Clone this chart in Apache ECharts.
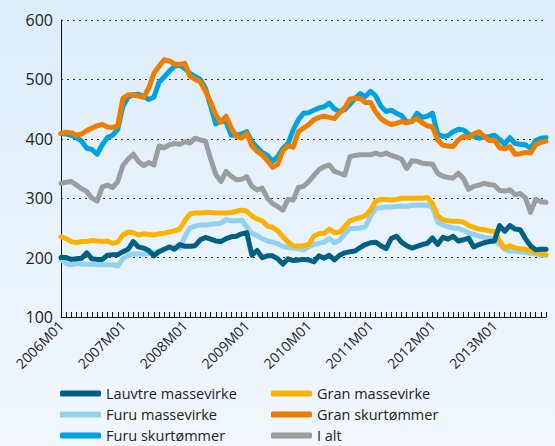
<!DOCTYPE html>
<html>
<head>
<meta charset="utf-8">
<script src="https://cdn.jsdelivr.net/npm/echarts@6/dist/echarts.min.js"></script>
<style>
html,body{margin:0;padding:0;}
body{background:linear-gradient(to bottom,#ddedf9 0%,#f1f7fd 100%);}
#c{width:555px;height:446px;}
</style>
</head>
<body>
<div id="c"></div>
<script>
// Monthly categories 2006M01 .. 2013M11
const months = [];
for (let y = 2006; y <= 2013; y++) {
  for (let m = 1; m <= 12; m++) {
    if (y === 2013 && m > 11) break;
    months.push(y + 'M' + (m < 10 ? '0' + m : m));
  }
}
const yTicks = [100, 200, 300, 400, 500, 600];

const lauvtreMassevirke = [200,200,197,198,199,208,198,197,197,204,205,205,210,214,227,218,216,212,203,210,214,218,214,222,219,219,220,230,234,231,228,227,232,235,236,240,242,204,212,200,203,203,198,189,198,195,196,197,196,193,203,199,204,196,204,208,210,211,217,222,225,226,220,215,232,236,226,220,216,219,222,224,233,222,234,231,236,228,230,233,218,222,225,227,228,254,244,254,248,247,232,220,213,214,214];
const granMassevirke = [235,232,227,225,227,227,229,228,227,228,224,226,238,243,242,238,240,239,238,240,241,243,245,248,262,274,275,275,276,276,275,275,275,276,278,280,278,270,265,262,253,251,245,235,226,220,219,220,222,236,240,241,248,242,243,252,262,265,267,271,280,295,298,298,297,298,300,300,300,300,300,301,291,270,264,262,261,261,260,254,251,248,247,245,244,228,216,220,216,215,214,211,209,206,205];
const furuMassevirke = [196,190,188,190,189,189,189,188,188,188,188,186,198,204,206,206,206,207,208,211,214,218,218,216,235,250,253,255,255,256,257,258,264,262,262,263,252,241,237,232,228,226,223,219,217,216,215,213,218,222,224,226,232,225,229,240,249,249,250,252,270,283,284,285,285,286,287,286,288,288,288,288,285,260,255,252,250,249,246,242,239,236,234,233,232,222,214,211,211,210,209,207,206,204,204];
const granSkurtommer = [409,411,410,406,408,414,418,422,424,420,419,422,468,474,474,472,470,485,510,522,533,531,526,525,527,505,500,496,480,462,440,428,438,418,404,401,409,388,379,373,363,352,357,380,388,386,412,418,424,432,436,438,436,434,444,452,467,468,468,461,461,445,434,428,424,426,429,427,430,434,427,422,420,398,389,388,387,398,404,402,408,412,404,397,398,385,383,387,374,375,377,376,390,394,396];
const furuSkurtommer = [409,408,406,402,396,384,382,374,390,402,406,416,455,470,474,475,472,466,470,495,504,514,522,524,518,510,505,500,485,455,425,430,428,406,406,408,412,395,386,377,372,362,370,384,392,415,432,443,444,448,452,454,460,450,446,449,458,468,476,471,480,472,455,446,448,443,439,428,429,443,436,438,443,408,404,405,412,416,415,408,404,401,403,404,406,399,391,402,392,391,390,384,397,401,402];
const iAlt = [325,327,328,322,316,311,300,295,319,322,318,328,355,366,374,362,355,360,356,388,385,390,392,391,395,393,401,398,396,366,340,328,345,337,331,332,336,320,314,317,300,291,286,280,298,297,318,320,328,338,348,353,356,345,342,339,370,372,373,373,373,376,373,376,372,369,366,350,363,362,359,358,357,342,337,335,334,342,333,315,320,322,325,323,322,313,312,314,306,308,301,276,298,294,293];

const names = ['Lauvtre massevirke','Gran massevirke','Furu massevirke','Gran skurtømmer','Furu skurtømmer','I alt'];
const colors = {
  'Lauvtre massevirke':'#006082',
  'Gran massevirke':'#fbb200',
  'Furu massevirke':'#93d1f3',
  'Gran skurtømmer':'#ef7d00',
  'Furu skurtømmer':'#00a3e0',
  'I alt':'#999ea1'
};
const dataMap = {
  'Lauvtre massevirke': lauvtreMassevirke,
  'Gran massevirke': granMassevirke,
  'Furu massevirke': furuMassevirke,
  'Gran skurtømmer': granSkurtommer,
  'Furu skurtømmer': furuSkurtommer,
  'I alt': iAlt
};
const zOrder = {'Furu massevirke':1,'Gran massevirke':2,'Lauvtre massevirke':3,'Furu skurtømmer':4,'Gran skurtømmer':5,'I alt':6};

const font = '"Open Sans", "Noto Sans", sans-serif';
const chart = echarts.init(document.getElementById('c'), null, {renderer:'svg'});
function legendAt(left, items) {
  return {
    orient:'vertical', left:left, top:381, height:120, width:250,
    itemWidth:41, itemHeight:6, itemGap:6, icon:'roundRect',
    textStyle:{fontFamily:font, fontSize:14.5, color:'#222'},
    data:items
  };
}
chart.setOption({
  backgroundColor:'transparent',
  animation:false,
  grid:{left:61, right:9, top:20, bottom:129, containLabel:false},
  legend:[
    legendAt(55, ['Lauvtre massevirke','Furu massevirke','Furu skurtømmer']),
    legendAt(266, ['Gran massevirke','Gran skurtømmer','I alt'])
  ],
  xAxis:{
    type:'category', data:months, boundaryGap:false,
    axisLine:{show:true, lineStyle:{color:'#111', width:1}},
    axisTick:{show:true, inside:true, interval:0, length:5, lineStyle:{color:'#111'}},
    axisLabel:{show:true, interval:11, rotate:45, margin:6, fontFamily:font, fontSize:14, color:'#222'},
    splitLine:{show:false}
  },
  yAxis:{
    type:'value', min:yTicks[0], max:yTicks[yTicks.length-1], interval:100,
    axisLine:{show:true, lineStyle:{color:'#111', width:1}},
    axisTick:{show:false},
    axisLabel:{fontFamily:font, fontSize:16, color:'#222', margin:8},
    splitLine:{show:true, lineStyle:{color:'#333', type:[2,4], width:1}}
  },
  series: names.map(n => ({
    name:n, type:'line', data:dataMap[n], showSymbol:false, symbol:'none',
    z: zOrder[n] + 2,
    lineStyle:{color:colors[n], width:5, cap:'round', join:'round'},
    itemStyle:{color:colors[n]}
  }))
});
</script>
</body>
</html>
